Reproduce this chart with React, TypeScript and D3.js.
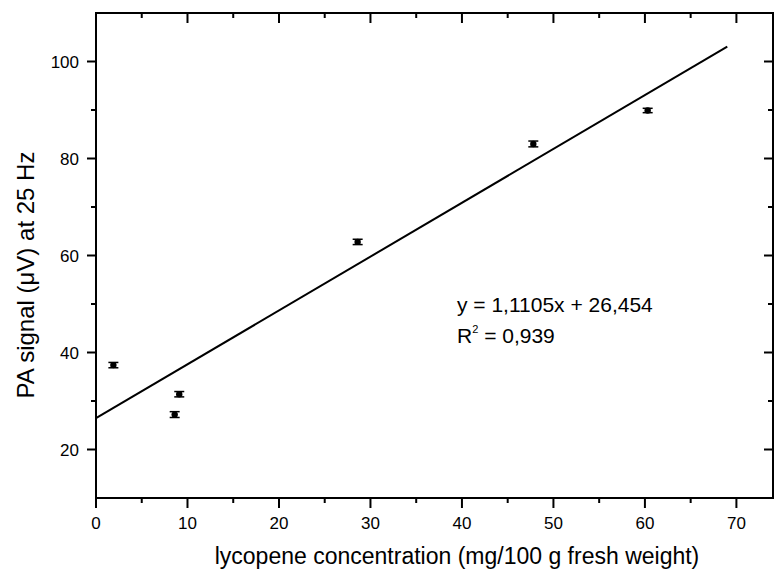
import React from "react";
import * as d3 from "d3";

// measured points (lycopene conc., PA signal, error)
const conc = [1.9, 8.6, 9.1, 28.6, 47.8, 60.3];
const signal = [37.4, 27.2, 31.4, 62.8, 83.0, 89.9];
const errs = [0.55, 0.6, 0.55, 0.55, 0.6, 0.45];

const slope = 1.1105;
const intercept = 26.454;
const fitRange = [0, 69];

const xTicks = [0, 10, 20, 30, 40, 50, 60, 70];
const yTicks = [20, 40, 60, 80, 100];
const xMinor = [5, 15, 25, 35, 45, 55, 65];
const yMinor = [30, 50, 70, 90];

const W = 775;
const H = 573;

const App = () => {
    const margin = { top: 13, right: 2, bottom: 75, left: 96 };
    const x = d3.scaleLinear().domain([0, 74]).range([margin.left, W - margin.right]);
    const y = d3.scaleLinear().domain([10, 110]).range([H - margin.bottom, margin.top]);

    const x0 = x.range()[0], x1 = x.range()[1];
    const y0 = y.range()[0], y1 = y.range()[1];

    const line = d3.line<number>()
        .x(d => x(d))
        .y(d => y(slope * d + intercept));

    const font = "Arial, 'Liberation Sans', sans-serif";

    return (
        <svg width={W} height={H} style={{ position: "absolute", left: 0, top: 0, background: "#fff" }}>
            {/* frame */}
            <rect x={x0} y={y1} width={x1 - x0} height={y0 - y1} fill="none" stroke="#000" strokeWidth={2} />

            {/* bottom / top ticks */}
            {xTicks.map(t => (
                <g key={"xt" + t}>
                    <line x1={x(t)} x2={x(t)} y1={y0} y2={y0 + 10} stroke="#000" strokeWidth={2} />
                    <line x1={x(t)} x2={x(t)} y1={y1} y2={y1 + 10} stroke="#000" strokeWidth={2} />
                    <text x={x(t)} y={y0 + 31} textAnchor="middle" fontFamily={font} fontSize={17}>{t}</text>
                </g>
            ))}
            {xMinor.map(t => (
                <g key={"xm" + t}>
                    <line x1={x(t)} x2={x(t)} y1={y0} y2={y0 + 5} stroke="#000" strokeWidth={2} />
                    <line x1={x(t)} x2={x(t)} y1={y1} y2={y1 + 5} stroke="#000" strokeWidth={2} />
                </g>
            ))}

            {/* left / right ticks */}
            {yTicks.map(t => (
                <g key={"yt" + t}>
                    <line x1={x0 - 9} x2={x0} y1={y(t)} y2={y(t)} stroke="#000" strokeWidth={2} />
                    <line x1={x1 - 9} x2={x1} y1={y(t)} y2={y(t)} stroke="#000" strokeWidth={2} />
                    <text x={x0 - 17} y={y(t) + 6} textAnchor="end" fontFamily={font} fontSize={17}>{t}</text>
                </g>
            ))}
            {yMinor.map(t => (
                <g key={"ym" + t}>
                    <line x1={x0 - 5} x2={x0} y1={y(t)} y2={y(t)} stroke="#000" strokeWidth={2} />
                    <line x1={x1 - 5} x2={x1} y1={y(t)} y2={y(t)} stroke="#000" strokeWidth={2} />
                </g>
            ))}

            {/* fit line */}
            <path d={line(fitRange) || ""} fill="none" stroke="#000" strokeWidth={2} />

            {/* points with error bars */}
            {conc.map((c, i) => (
                <g key={"p" + i}>
                    <line x1={x(c)} x2={x(c)} y1={y(signal[i] - errs[i])} y2={y(signal[i] + errs[i])} stroke="#000" strokeWidth={1.5} />
                    <line x1={x(c) - 5} x2={x(c) + 5} y1={y(signal[i] - errs[i])} y2={y(signal[i] - errs[i])} stroke="#000" strokeWidth={1.5} />
                    <line x1={x(c) - 5} x2={x(c) + 5} y1={y(signal[i] + errs[i])} y2={y(signal[i] + errs[i])} stroke="#000" strokeWidth={1.5} />
                    <circle cx={x(c)} cy={y(signal[i])} r={3.2} fill="#000" />
                </g>
            ))}

            {/* equation */}
            <text x={457} y={312} fontFamily={font} fontSize={21}>y = 1,1105x + 26,454</text>
            <text x={457} y={343} fontFamily={font} fontSize={21}>
                R<tspan dy={-10} fontSize={11}>2</tspan><tspan dy={10}> = 0,939</tspan>
            </text>

            {/* axis titles */}
            <text x={457} y={564} textAnchor="middle" fontFamily={font} fontSize={23}>
                lycopene concentration (mg/100 g fresh weight)
            </text>
            <text transform="translate(34,275) rotate(-90)" textAnchor="middle" fontFamily={font} fontSize={24}>
                PA signal (μV) at 25 Hz
            </text>
        </svg>
    );
};

export default App;
